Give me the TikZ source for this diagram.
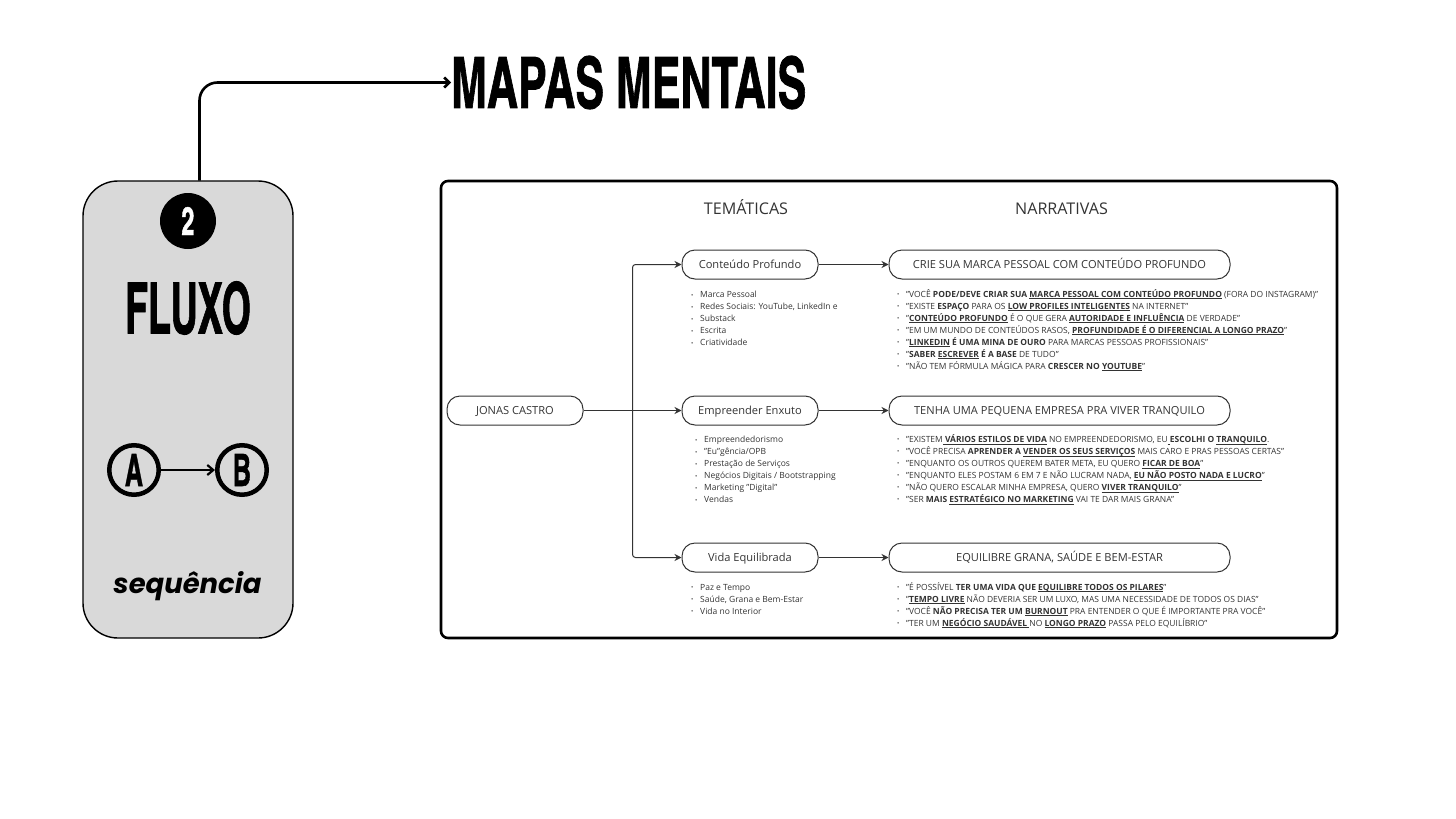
\documentclass[tikz,border=0pt]{standalone}
\usepackage{fontspec}
\usepackage{graphicx}
\usetikzlibrary{arrows.meta}
\setmainfont{Open Sans}
\newfontfamily\headfont[BoldFeatures={FakeBold=1.2}]{TeX Gyre Heros Cn}
\newfontfamily\seqfont{Poppins}
\definecolor{ink}{HTML}{333333}
\definecolor{card}{HTML}{D9D9D9}
\newcommand{\bun}[1]{\underline{\smash{\textbf{#1}}}}
\newcommand{\lineitem}[1]{\makebox[9pt][l]{\raisebox{0.6pt}{\scalebox{.7}{•}}}#1}
\newcommand{\headtext}[3]{\resizebox{#1pt}{#2pt}{\headfont\bfseries #3}}
\tikzset{
  pill/.style={draw=ink,line width=1pt,rounded corners=13pt,minimum height=29pt,text=ink,font=\fontsize{11.1}{14}\selectfont,inner sep=0pt,text height=10pt,text depth=2pt},
  topic/.style={pill,minimum width=136pt},
  story/.style={pill,minimum width=341pt},
  conn/.style={draw=ink,line width=1pt,-{Stealth[length=7pt,width=7pt]}},
  plain/.style={draw=ink,line width=1pt},
  head/.style={text=ink,font=\fontsize{16.1}{18}\selectfont,inner sep=0pt,anchor=base},
  listing/.style={anchor=north west,align=left,inner sep=0pt,text=ink,font=\fontsize{8.5}{12}\selectfont},
  tell/.style={listing,font=\fontsize{8.47}{12}\selectfont},
  ringed/.style={circle,draw=black,line width=4.5pt,minimum size=49.5pt,inner sep=0pt},
}
\begin{document}
\begin{tikzpicture}[x=1pt,y=-1pt]
\useasboundingbox (0,0) rectangle (1456,819);
% left card
\node[draw=black,line width=1.4pt,fill=card,rounded corners=35pt,minimum width=210pt,minimum height=457pt,inner sep=0pt] (cardbox) at (188,409.5) {};
\node[circle,fill=black,minimum size=56pt,inner sep=0pt,text=white] (num) at (188,221) {\headtext{13}{28}{2}};
\node[inner sep=0pt] (fluxo) at (188,308) {\headtext{126}{52}{FLUXO}};
\node[ringed] (a) at (134,470) {\headtext{18}{32}{A}};
\node[ringed] (b) at (242,470) {\headtext{18}{32}{B}};
\draw[line width=2.2pt,-{Straight Barb[length=6pt,width=10pt]}] (a) -- (b);
\node[inner sep=0pt] (seq) at (187.5,586.5) {\resizebox{148pt}{!}{\seqfont\bfseries\itshape sequência}};
% title
\node[inner sep=0pt,anchor=west] (title) at (451,82.5) {\headtext{355}{52}{MAPAS MENTAIS}};
\coordinate (cardtop) at (199.5,180.5);
\draw[line width=2.6pt,rounded corners=18pt,-{Straight Barb[length=5pt,width=10pt]}] (cardtop) |- (title.west);
% panel
\node[draw=black,line width=2.6pt,rounded corners=7pt,minimum width=896pt,minimum height=457pt,inner sep=0pt] (panel) at (889,409.5) {};
\node[head] (tem) at (746,214.5) {TEMÁTICAS};
\node[head] (nar) at (1061.5,214.5) {NARRATIVAS};
% nodes
\node[topic] (jonas) at (515,410.5) {JONAS CASTRO};
\node[topic] (t1) at (750,264.5) {Conteúdo Profundo};
\node[topic] (t2) at (750,410.5) {Empreender Enxuto};
\node[topic] (t3) at (750,557.5) {Vida Equilibrada};
\node[story] (s1) at (1059.5,264.5) {CRIE SUA MARCA PESSOAL COM CONTEÚDO PROFUNDO};
\node[story] (s2) at (1059.5,410.5) {TENHA UMA PEQUENA EMPRESA PRA VIVER TRANQUILO};
\node[story] (s3) at (1059.5,557.5) {EQUILIBRE GRANA, SAÚDE E BEM-ESTAR};
% connectors
\coordinate (bus) at (632.5,410.5);
\draw[plain] (jonas) -- (bus);
\draw[conn,rounded corners=3pt] (bus) |- (t1);
\draw[conn] (bus) -- (t2);
\draw[conn,rounded corners=3pt] (bus) |- (t3);
\draw[conn] (t1) -- (s1);
\draw[conn] (t2) -- (s2);
\draw[conn] (t3) -- (s3);
% topic lists
\node[listing] (l1) at (691,291) {\lineitem{Marca Pessoal}\\\lineitem{Redes Sociais: YouTube, LinkedIn e}\\\lineitem{Substack}\\\lineitem{Escrita}\\\lineitem{Criatividade}};
\node[listing] (l2) at (695,436) {\lineitem{Empreendedorismo}\\\lineitem{"Eu"gência/OPB}\\\lineitem{Prestação de Serviços}\\\lineitem{Negócios Digitais / Bootstrapping}\\\lineitem{Marketing "Digital"}\\\lineitem{Vendas}};
\node[listing] (l3) at (691,584) {\lineitem{Paz e Tempo}\\\lineitem{Saúde, Grana e Bem-Estar}\\\lineitem{Vida no Interior}};
% narrative lists
\node[tell] (n1) at (897,289) {%
\lineitem{"VOCÊ \textbf{PODE/DEVE CRIAR SUA} \bun{MARCA PESSOAL COM CONTEÚDO PROFUNDO} (FORA DO INSTAGRAM)"}\\
\lineitem{"EXISTE \textbf{ESPAÇO} PARA OS \bun{LOW PROFILES INTELIGENTES} NA INTERNET"}\\
\lineitem{"\bun{CONTEÚDO PROFUNDO} É O QUE GERA \bun{AUTORIDADE E INFLUÊNCIA} DE VERDADE"}\\
\lineitem{"EM UM MUNDO DE CONTEÚDOS RASOS, \bun{PROFUNDIDADE É O DIFERENCIAL A LONGO PRAZO}"}\\
\lineitem{"\bun{LINKEDIN} \textbf{É UMA MINA DE OURO} PARA MARCAS PESSOAS PROFISSIONAIS"}\\
\lineitem{"\textbf{SABER} \bun{ESCREVER} \textbf{É A BASE} DE TUDO"}\\
\lineitem{"NÃO TEM FÓRMULA MÁGICA PARA \textbf{CRESCER NO} \bun{YOUTUBE}"}};
\node[tell] (n2) at (897,436) {%
\lineitem{"EXISTEM\bun{\ VÁRIOS ESTILOS DE VIDA} NO EMPREENDEDORISMO, EU\bun{\ }\textbf{ESCOLHI O} \bun{TRANQUILO}.}\\
\lineitem{"VOCÊ PRECISA \textbf{APRENDER A} \bun{VENDER OS SEUS SERVIÇOS} MAIS CARO E PRAS PESSOAS CERTAS"}\\
\lineitem{"ENQUANTO OS OUTROS QUEREM BATER META, EU QUERO \bun{FICAR DE BOA}"}\\
\lineitem{"ENQUANTO ELES POSTAM 6 EM 7 E NÃO LUCRAM NADA, \bun{EU NÃO POSTO NADA E LUCRO}"}\\
\lineitem{"NÃO QUERO ESCALAR MINHA EMPRESA, QUERO \bun{VIVER TRANQUILO}"}\\
\lineitem{"SER \textbf{MAIS} \bun{ESTRATÉGICO NO MARKETING} VAI TE DAR MAIS GRANA"}};
\node[tell] (n3) at (897,582) {%
\lineitem{"É POSSÍVEL \textbf{TER UMA VIDA QUE} \bun{EQUILIBRE TODOS OS PILARES}"}\\
\lineitem{"\bun{TEMPO LIVRE} NÃO DEVERIA SER UM LUXO, MAS UMA NECESSIDADE DE TODOS OS DIAS"}\\
\lineitem{"VOCÊ \textbf{NÃO PRECISA TER UM} \bun{BURNOUT} PRA ENTENDER O QUE É IMPORTANTE PRA VOCÊ"}\\
\lineitem{"TER UM \bun{NEGÓCIO SAUDÁVEL\ }NO \bun{LONGO PRAZO} PASSA PELO EQUILÍBRIO"}};
\end{tikzpicture}
\end{document}
